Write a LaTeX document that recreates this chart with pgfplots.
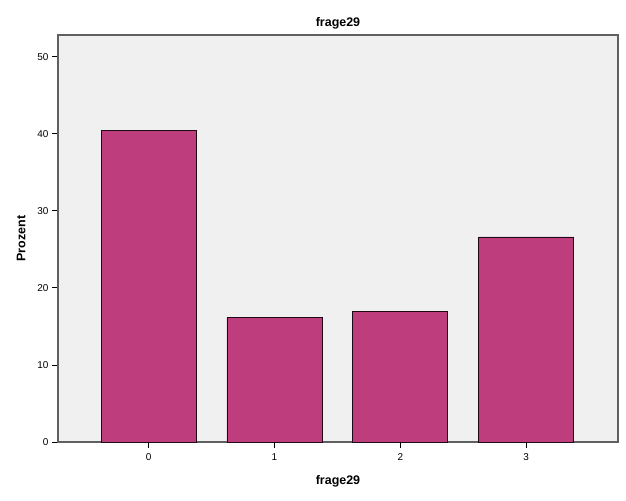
\documentclass[border=0pt]{standalone}
\usepackage{pgfplots}
\pgfplotsset{compat=1.18}
\usepackage{fontspec}
\setmainfont{Liberation Sans}
\definecolor{barfill}{HTML}{BE3D7C}
\definecolor{plotbg}{HTML}{F0F0F0}
\definecolor{frame}{HTML}{606060}
\begin{document}
\begin{tikzpicture}
\useasboundingbox (0bp,0bp) rectangle (626bp,501bp);
\begin{axis}[
    at={(58bp,59bp)}, anchor=south west,
    scale only axis, width=560bp, height=407bp,
    xmin=-0.72, xmax=3.73, ymin=0, ymax=52.8,
    clip=false,
    axis background/.style={fill=plotbg},
    axis line style={frame, line width=1.2pt},
    xtick={0,1,2,3}, ytick={0,10,20,30,40,50},
    tick align=outside, xtick pos=bottom, ytick pos=left,
    major tick length=6bp,
    major tick style={draw=black, line width=0.8pt},
    ticklabel style={font=\fontsize{10}{11}\selectfont},
    xticklabel style={yshift=-2bp},
    /pgf/number format/assume math mode=true,
    title={\textbf{frage29}}, title style={font=\fontsize{12.5}{14}\selectfont, yshift=-4bp},
    xlabel={\textbf{frage29}}, ylabel={\textbf{Prozent}},
    label style={font=\fontsize{12.5}{14}\selectfont},
    xlabel style={yshift=-8bp},
    ylabel style={yshift=5bp},
]
\addplot[ybar, bar width=95bp, fill=barfill, draw=black!85!barfill, line width=0.8pt]
    coordinates {(0,40.4) (1,16.1) (2,16.9) (3,26.6)};
% x tick marks below the axis line
\pgfplotsinvokeforeach{0,1,2,3}{
    \draw[black, line width=0.8pt] (axis cs:#1,0) -- ([yshift=-6bp]axis cs:#1,0);
}
\end{axis}
\end{tikzpicture}
\end{document}
